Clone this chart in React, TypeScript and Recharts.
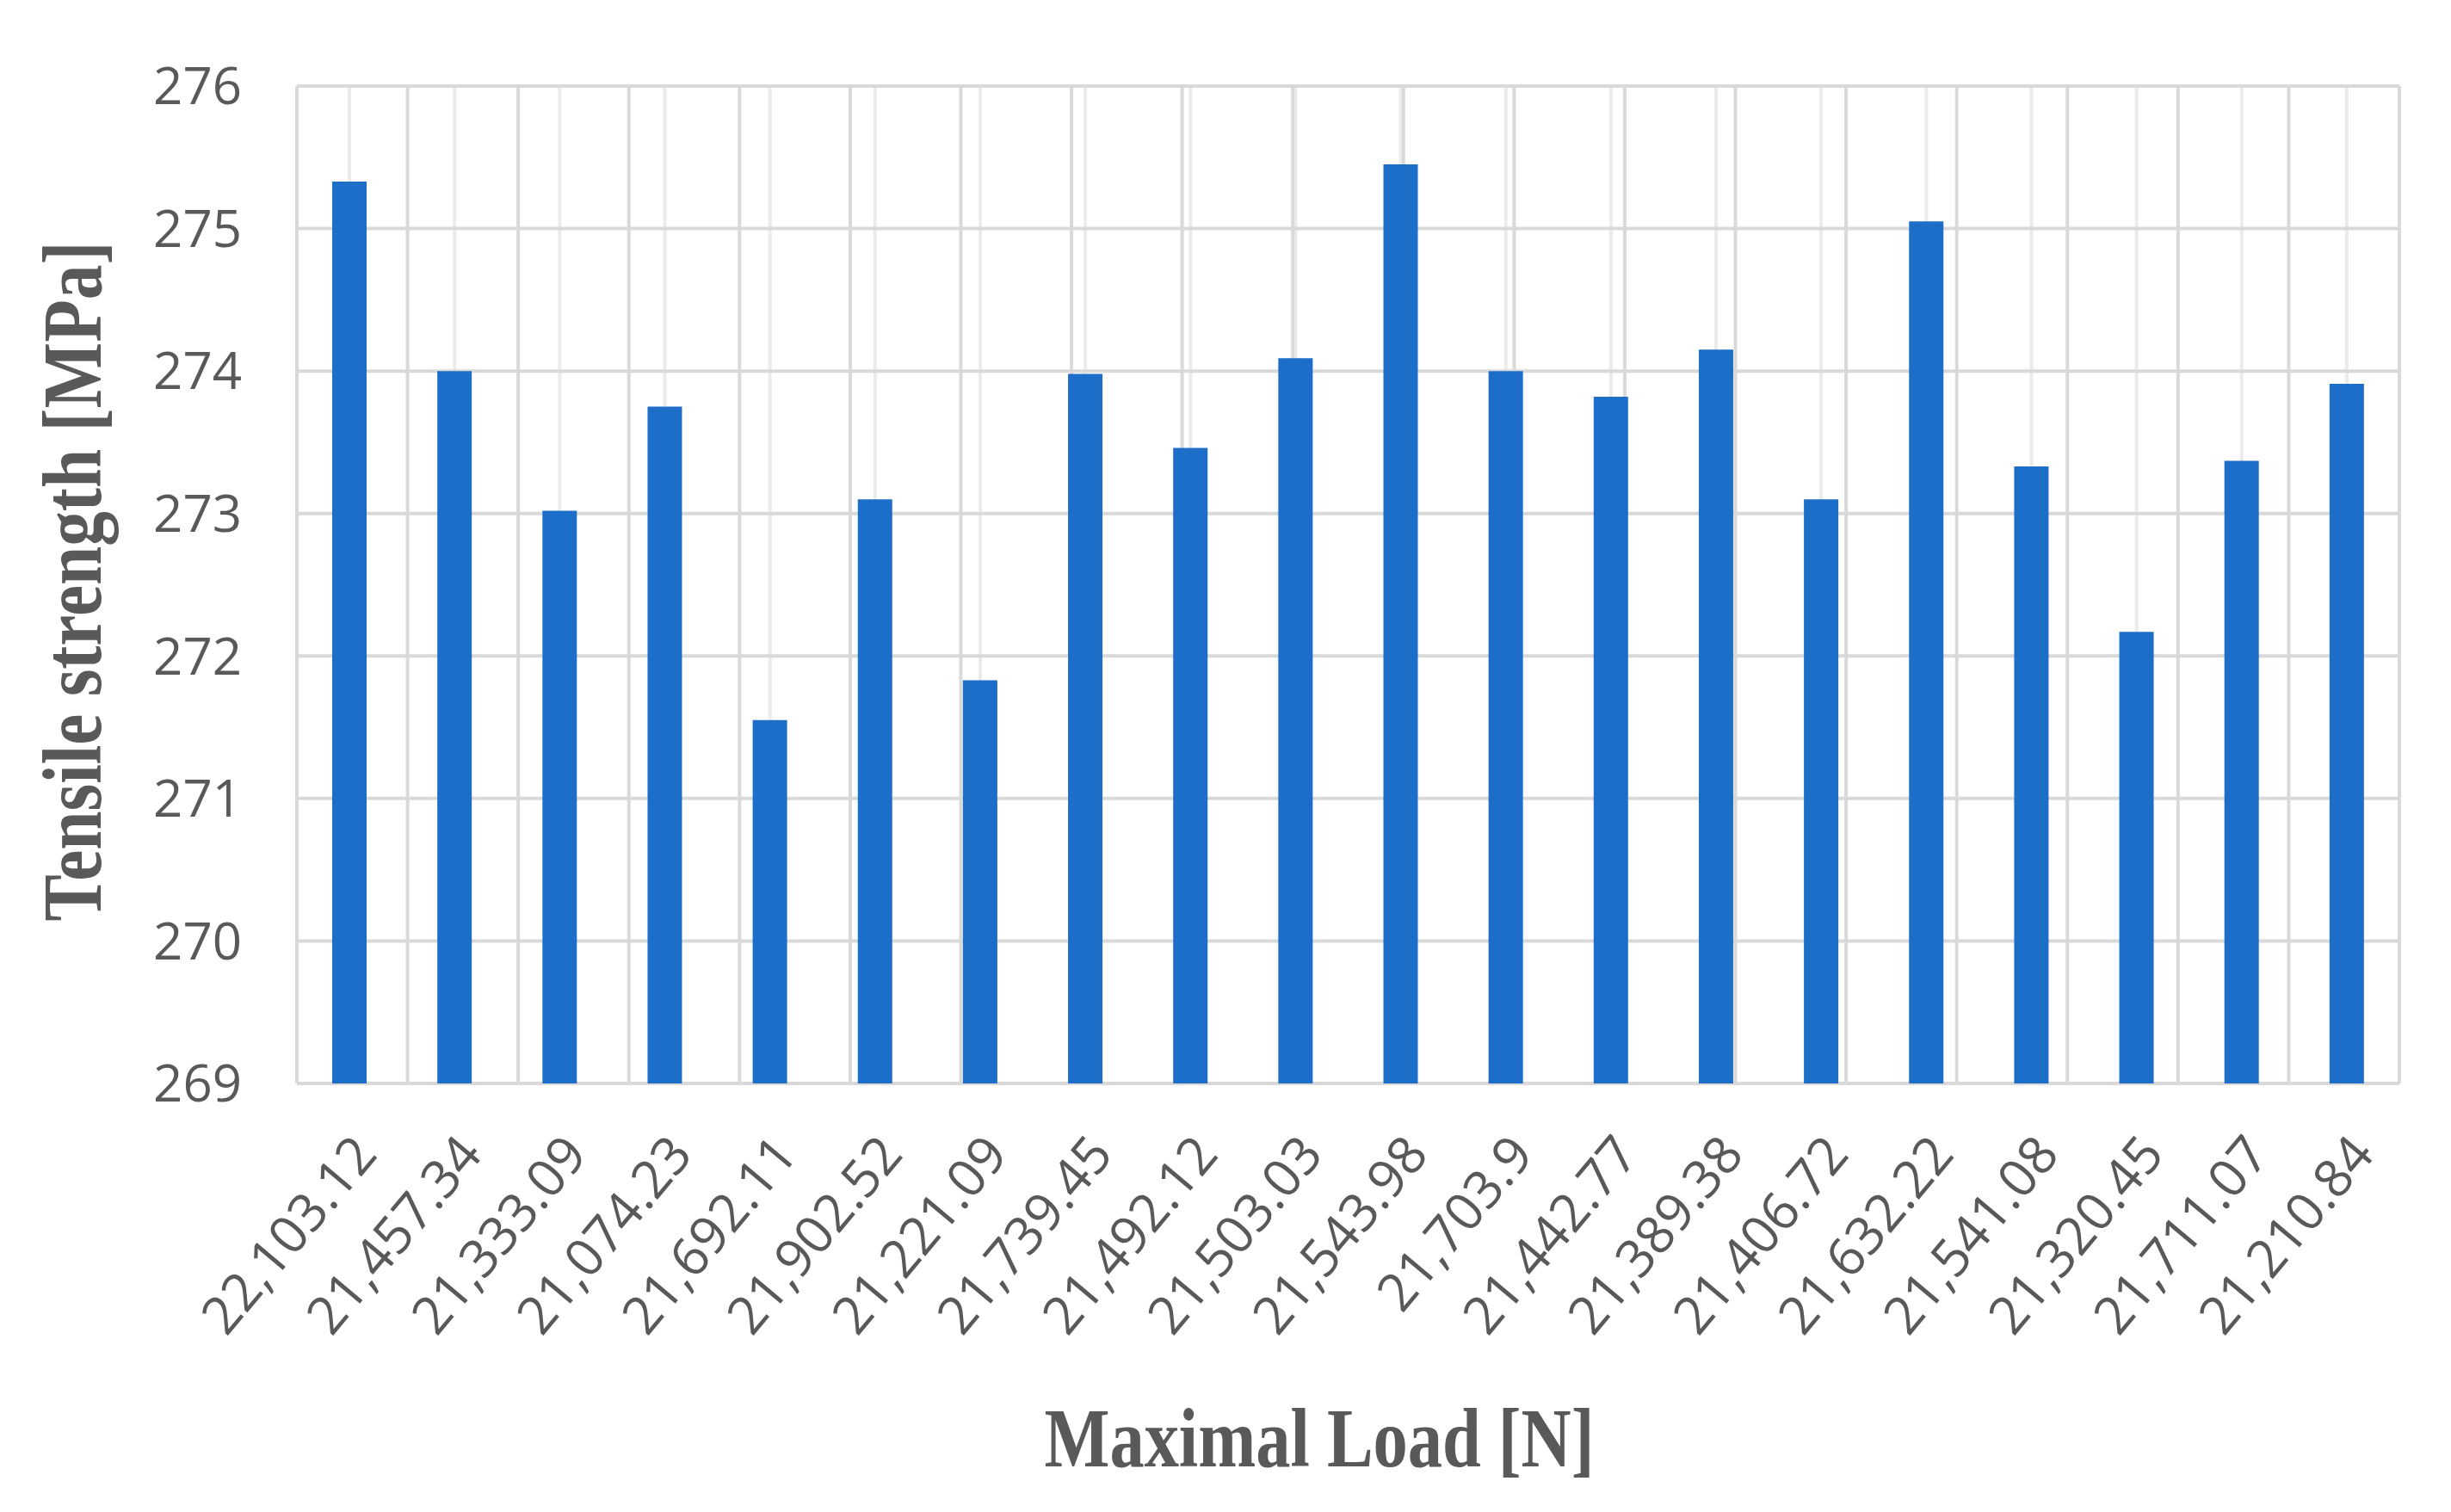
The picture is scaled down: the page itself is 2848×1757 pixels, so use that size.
import React from "react";
import { BarChart, Bar, XAxis, YAxis, CartesianGrid, Label } from "recharts";

const categories = [
  "22,103.12", "21,457.34", "21,333.09", "21,074.23", "21,692.11",
  "21,902.52", "21,221.09", "21,739.45", "21,492.12", "21,503.03",
  "21,543.98", "21,703.9", "21,442.77", "21,389.38", "21,406.72",
  "21,632.22", "21,541.08", "21,320.45", "21,711.07", "21,210.84",
];
const tensileStrength = [
  275.33, 274.0, 273.02, 273.75, 271.55,
  273.1, 271.83, 273.98, 273.46, 274.09,
  275.45, 274.0, 273.82, 274.15, 273.1,
  275.05, 273.33, 272.17, 273.37, 273.91,
];
const yTicks = [269, 270, 271, 272, 273, 274, 275, 276];
const edgeTicks = [...categories.map((_, i) => i), categories.length];

const data = categories.map((c, i) => ({ load: c, strength: tensileStrength[i] }));

const TICK_COLOR = "#595959";
const GRID = "#d9d9d9";

const XTick = (props: any) => {
  const { x, y, payload } = props;
  return (
    <g transform={`translate(${x + 18},${y + 68}) rotate(-50)`}>
      <text x={0} y={0} dy="0.35em" textAnchor="end" fill={TICK_COLOR}
        fontFamily="'Open Sans', sans-serif" fontSize={61}>
        {payload.value}
      </text>
    </g>
  );
};

const XTitle = (props: any) => {
  const vb = props.viewBox || {};
  return (
    <text x={vb.x + vb.width / 2 - 353} y={vb.y + 412} dominantBaseline="central"
      textLength={639} lengthAdjust="spacingAndGlyphs"
      fill={TICK_COLOR} fontFamily="'Liberation Serif', serif" fontWeight="bold" fontSize={98}>
      Maximal Load [N]
    </text>
  );
};

const YTitle = (props: any) => {
  const vb = props.viewBox || {};
  const cx = vb.x + 76;
  const cy = vb.y + vb.height / 2 - 4;
  return (
    <g transform={`translate(${cx},${cy}) rotate(-90)`}>
      <text x={-395} y={0} dominantBaseline="central"
        textLength={790} lengthAdjust="spacingAndGlyphs"
        fill={TICK_COLOR} fontFamily="'Liberation Serif', serif" fontWeight="bold" fontSize={98}>
        Tensile strength [MPa]
      </text>
    </g>
  );
};

export default function App() {
  return (
    <BarChart width={2832} height={1741} data={data}
      margin={{ top: 92, right: 52, left: 0, bottom: 0 }}>
      <XAxis xAxisId="edge" type="number" domain={[0, categories.length]} ticks={edgeTicks} hide />
      <XAxis xAxisId="cat" dataKey="load" interval={0} height={490} tickLine={false} axisLine={false}
        tickSize={0} tick={<XTick />}>
        <Label content={<XTitle />} />
      </XAxis>
      <YAxis domain={[269, 276]} ticks={yTicks} allowDataOverflow width={337} axisLine={false} tickLine={false}
        tickSize={6} tickMargin={58}
        tick={{ fill: TICK_COLOR, fontSize: 60, fontFamily: "'Open Sans', sans-serif" }}>
        <Label content={<YTitle />} />
      </YAxis>
      <CartesianGrid xAxisId="cat" horizontal={false} stroke="#ebebeb" strokeWidth={4} />
      <CartesianGrid xAxisId="edge" stroke={GRID} strokeWidth={4} />
      <Bar xAxisId="cat" dataKey="strength" fill="#1C6EC9" barSize={40} isAnimationActive={false} />
    </BarChart>
  );
}
